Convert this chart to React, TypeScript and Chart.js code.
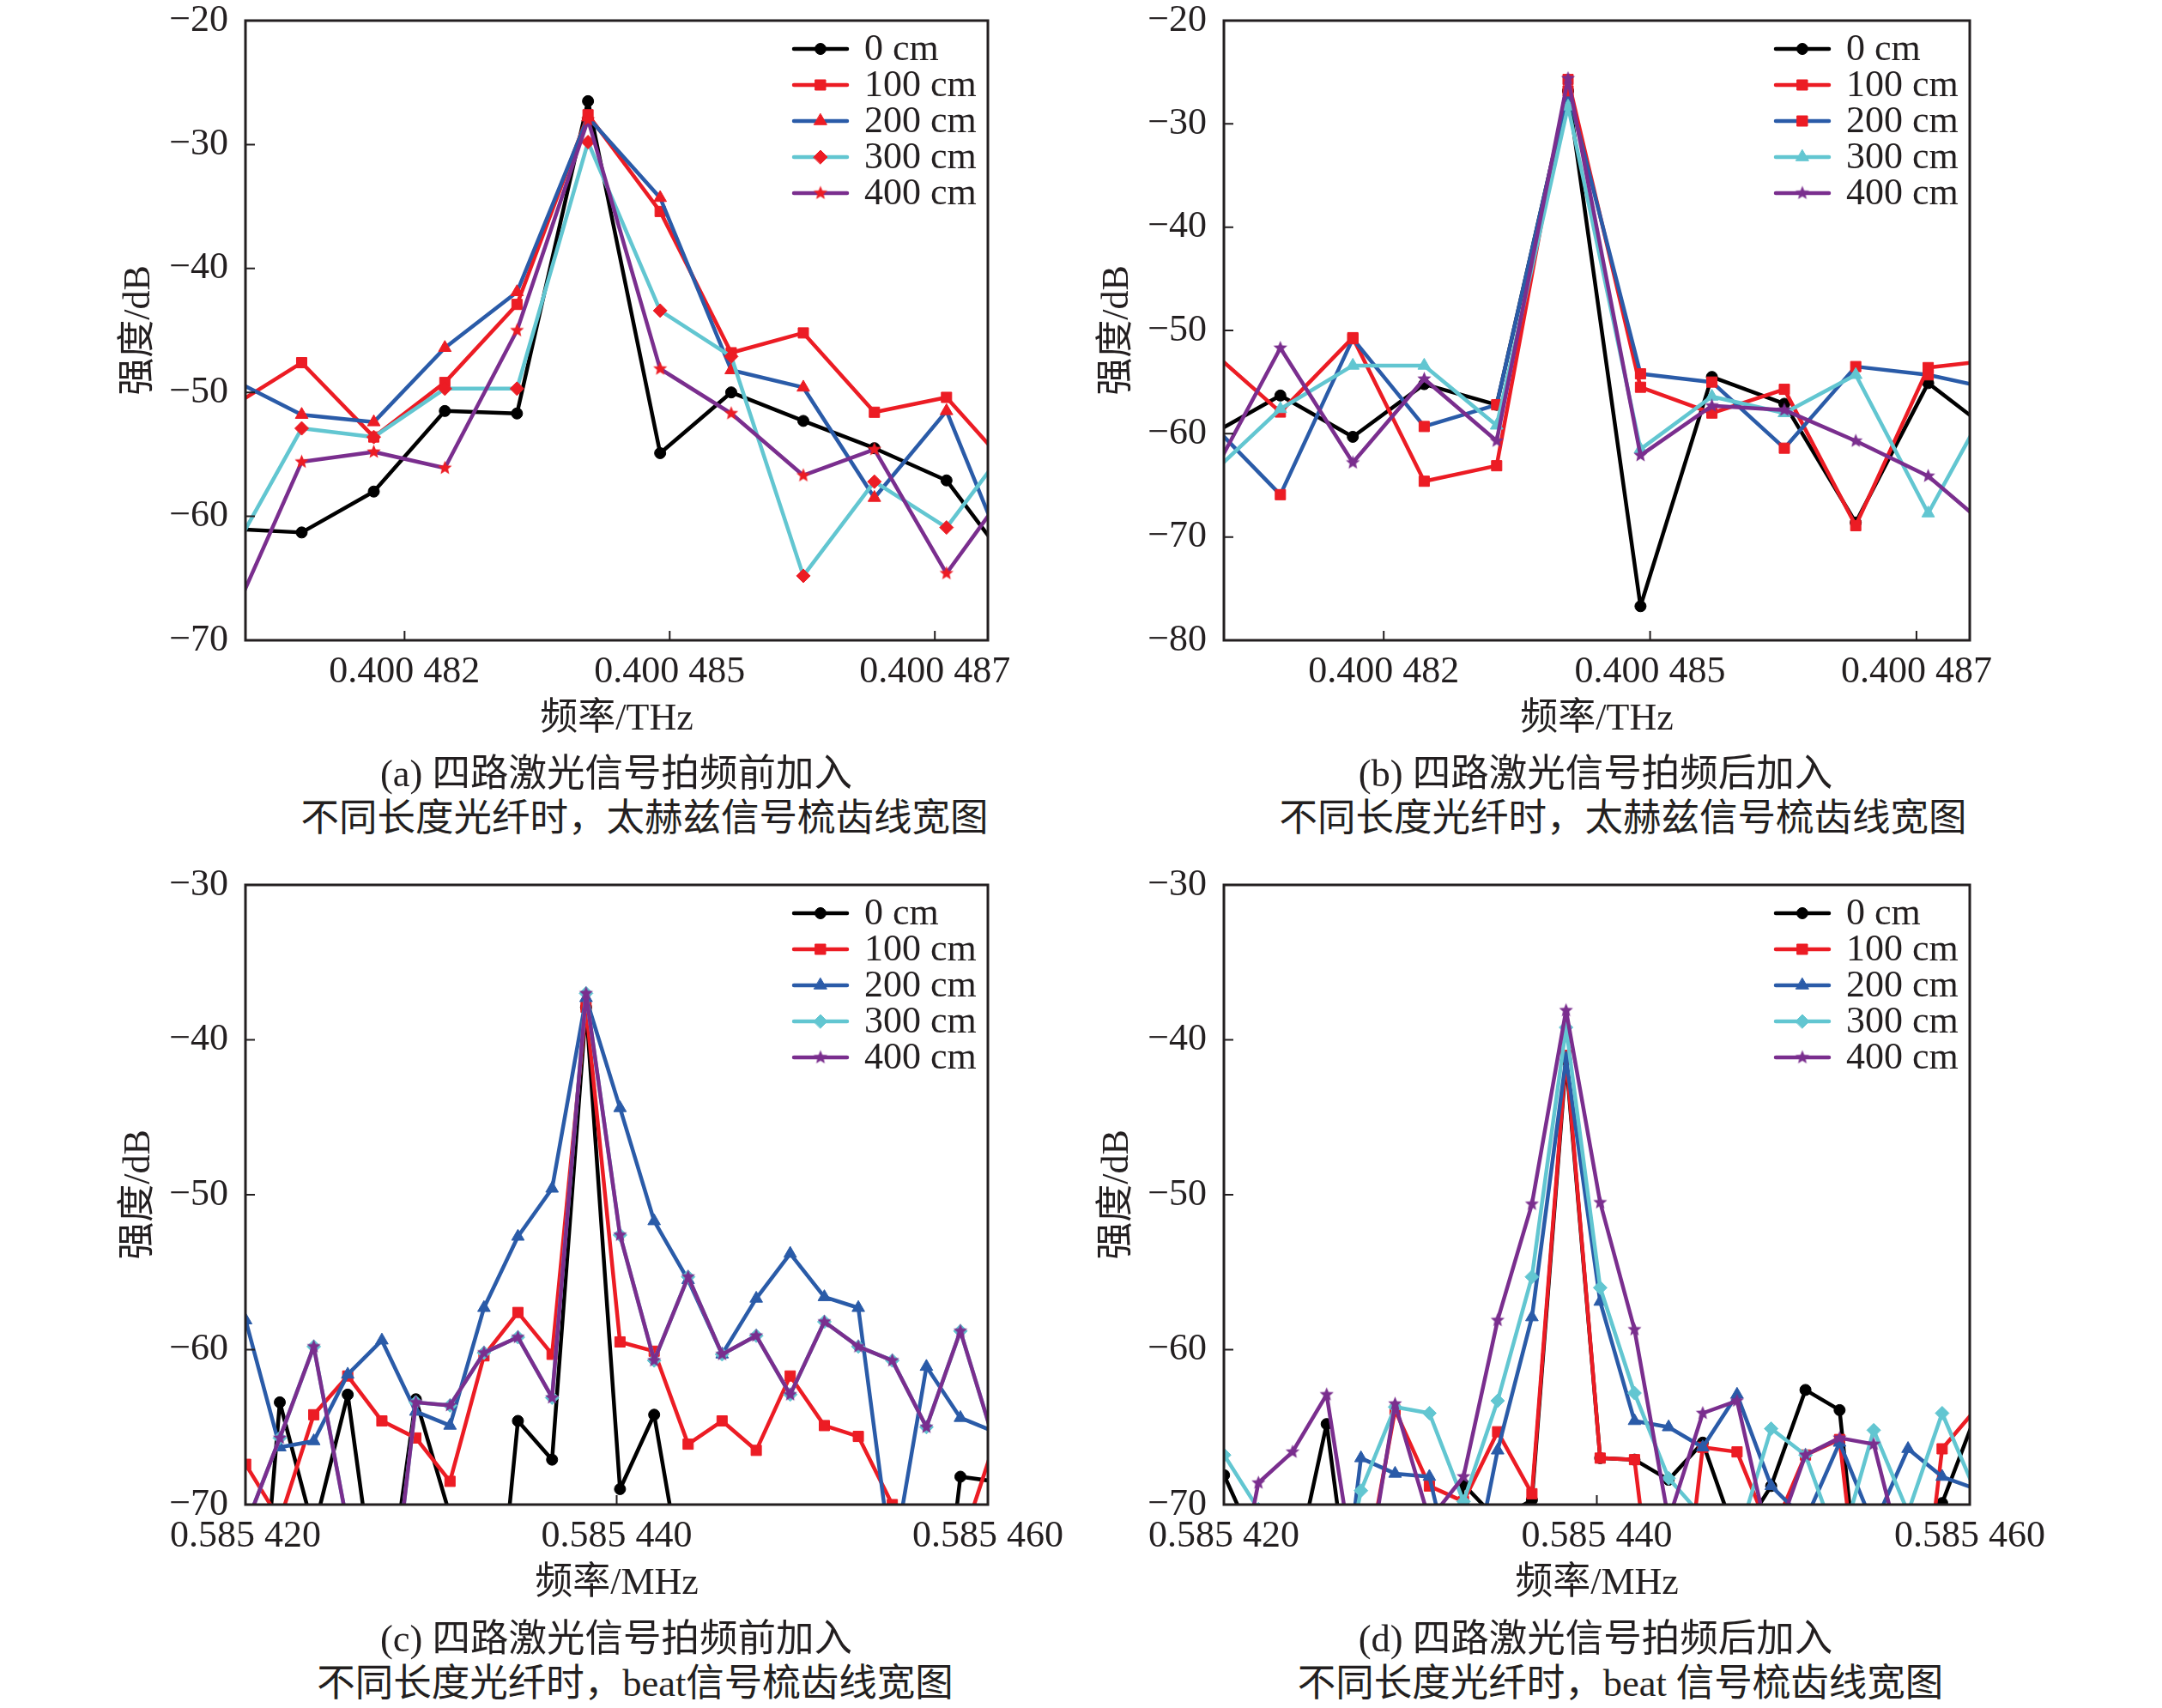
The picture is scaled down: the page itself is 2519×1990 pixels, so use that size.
import React, { useEffect, useRef } from 'react';
import { Chart, registerables } from 'chart.js';
import { drawPoint } from 'chart.js/helpers';

Chart.register(...registerables);

// ---------- data ----------
// x positions: offsets in 1e-6 THz above 0.4 THz
const THZ_X = [480.36, 481.03, 481.71, 482.38, 483.06, 483.73, 484.41, 485.08, 485.76, 486.43, 487.11, 487.78];
const THZ_TICKS = [482, 484.5, 487];
const THZ_TICK_LABELS = ['0.400 482', '0.400 485', '0.400 487'];

// x positions: offsets in 1e-6 MHz above 0.585 MHz
const MHZ_X = [418.18, 420.01, 421.85, 423.68, 425.51, 427.35, 429.18, 431.02, 432.85, 434.68, 436.52, 438.35,
  440.18, 442.02, 443.85, 445.68, 447.52, 449.35, 451.19, 453.02, 454.85, 456.69, 458.52, 460.36];
const MHZ_TICKS = [420, 440, 460];
const MHZ_TICK_LABELS = ['0.585 420', '0.585 440', '0.585 460'];

const SERIES_LABELS = ['0 cm', '100 cm', '200 cm', '300 cm', '400 cm'];

// (a)
const A_0CM = [-61.0, -61.3, -58.0, -51.5, -51.7, -26.5, -54.9, -50.0, -52.3, -54.5, -57.1, -64.7];
const A_100CM = [-51.2, -47.6, -53.6, -49.2, -42.9, -27.6, -35.4, -46.8, -45.2, -51.6, -50.4, -56.8];
const A_200CM = [-48.9, -51.8, -52.4, -46.4, -41.9, -27.8, -34.3, -48.2, -49.6, -58.5, -51.5, -65.6];
const A_300CM = [-63.2, -52.9, -53.6, -49.7, -49.7, -29.8, -43.4, -47.1, -64.8, -57.2, -60.9, -53.3];
const A_400CM = [-68.5, -55.6, -54.8, -56.1, -45.0, -28.0, -48.1, -51.7, -56.7, -54.6, -64.6, -56.7];

// (b)
const B_0CM = [-60.2, -56.3, -60.3, -55.2, -57.2, -26.8, -76.7, -54.5, -57.1, -68.6, -55.1, -60.4];
const B_100CM = [-51.8, -57.9, -50.7, -64.6, -63.1, -25.7, -55.5, -58.0, -55.7, -68.9, -53.6, -52.8];
const B_200CM = [-58.8, -65.9, -50.8, -59.3, -57.2, -26.8, -54.2, -55.0, -61.4, -53.5, -54.3, -55.8];
const B_300CM = [-64.1, -57.6, -53.4, -53.4, -59.2, -28.3, -61.5, -56.4, -58.0, -54.3, -67.7, -55.1];
const B_400CM = [-64.6, -51.7, -62.8, -54.7, -60.7, -25.6, -62.1, -57.3, -57.7, -60.7, -64.1, -70.0];

// (c)
const C_0CM = [-88, -90, -63.4, -71.7, -62.9, -79.0, -63.2, -70.7, -87.0, -64.6, -67.1, -37.9,
  -69.0, -64.2, -76.9, -80, -82, -80, -84, -82, -85, -86.5, -68.2, -68.5];
const C_100CM = [-66, -67.4, -71.0, -64.2, -61.7, -64.6, -65.7, -68.5, -60.4, -57.6, -60.3, -37.9,
  -59.5, -60.1, -66.1, -64.6, -66.5, -61.7, -64.9, -65.6, -70.0, -75, -72.7, -66.0];
const C_200CM = [-57, -58.1, -66.3, -65.9, -61.6, -59.4, -64.0, -64.9, -57.3, -52.7, -49.6, -37.3,
  -44.4, -51.7, -55.5, -60.3, -56.7, -53.8, -56.6, -57.3, -74.0, -61.1, -64.4, -65.3];
const C_300CM = [-75, -71.4, -65.7, -59.8, -71.4, -82.2, -63.4, -63.6, -60.2, -59.2, -63.1, -37.0,
  -52.6, -60.7, -55.3, -60.3, -59.1, -62.9, -58.2, -59.8, -60.7, -65.0, -58.8, -66.0];
const C_400CM = [-75, -71.4, -65.7, -59.8, -71.4, -82.2, -63.4, -63.6, -60.2, -59.2, -63.1, -37.0,
  -52.6, -60.7, -55.3, -60.3, -59.1, -62.9, -58.2, -59.8, -60.7, -65.0, -58.8, -66.0];

// (d)
const D_0CM = [-66, -68.1, -73, -75, -64.8, -81.6, -85, -85, -68.7, -71, -69.7, -41.3,
  -67.0, -67.1, -68.4, -66.0, -72.3, -68.8, -62.6, -63.9, -85, -85, -69.9, -64.1];
const D_100CM = [-80, -80, -80, -80, -80, -76, -63.9, -68.8, -69.8, -65.3, -69.3, -41.0,
  -67.0, -67.1, -85, -66.3, -66.6, -72, -66.8, -65.8, -85, -85, -66.4, -63.8];
const D_200CM = [-80, -80, -80, -80, -85, -67.0, -68.0, -68.2, -77.5, -66.5, -57.9, -41.2,
  -56.9, -64.6, -65.0, -66.3, -62.9, -68.8, -71.0, -66.0, -71.4, -66.4, -68.2, -69.0];
const D_300CM = [-64, -66.8, -70.3, -80, -80, -69.1, -63.7, -64.1, -69.8, -63.3, -55.3, -39.2,
  -56.0, -62.8, -68.3, -70.8, -72.4, -65.1, -66.8, -72.9, -65.2, -70.5, -64.1, -69.3];
const D_400CM = [-85, -79.6, -68.6, -66.6, -62.9, -77, -63.5, -71, -68.2, -58.1, -50.6, -38.1,
  -50.5, -58.7, -71, -64.1, -63.3, -73, -66.8, -65.7, -66.1, -74.8, -80, -80];

// ---------- styles ----------
const INK = '#231f20';
const BLACK = '#000000';
const RED = '#ec1c24';
const BLUE = '#2a5ba8';
const CYAN = '#62c6d1';
const PURPLE = '#7a2e8e';

const SERIF = "'Liberation Serif', 'Noto Sans CJK SC', serif";

type Marker = { style: string; color: string; radius: number };
const circle = (c: string): Marker => ({ style: 'circle', color: c, radius: 6.5 });
const square = (c: string): Marker => ({ style: 'rect', color: c, radius: 8.5 });
const tri = (c: string): Marker => ({ style: 'triangle', color: c, radius: 8.5 });
const diamond = (c: string): Marker => ({ style: 'rectRot', color: c, radius: 8 });
const star = (c: string): Marker => ({ style: 'star', color: c, radius: 8.5 });

function makeStar(color: string, r: number) {
  const size = Math.ceil(r * 2 + 2);
  const c = document.createElement('canvas');
  c.width = size;
  c.height = size;
  const g = c.getContext('2d')!;
  g.fillStyle = color;
  g.beginPath();
  for (let k = 0; k < 10; k++) {
    const rad = k % 2 === 0 ? r : r * 0.45;
    const a = -Math.PI / 2 + (k * Math.PI) / 5;
    const px = size / 2 + rad * Math.cos(a);
    const py = size / 2 + rad * Math.sin(a);
    if (k === 0) g.moveTo(px, py);
    else g.lineTo(px, py);
  }
  g.closePath();
  g.fill();
  return c;
}

type Series = { ys: number[]; line: string; marker: Marker };
type PanelSpec = {
  left: number;
  top: number;
  padRight: number;
  xs: number[];
  xMin: number;
  xMax: number;
  xTicks: number[];
  xTickLabels: string[];
  xTitle: string;
  yMin: number;
  yMax: number;
  series: Series[];
  captions: { text: string; cx: number; cy: number }[];
};

const PANELS: PanelSpec[] = [
  {
    left: 80, top: 0, padRight: 129, xs: THZ_X, xMin: 480.5, xMax: 487.5, xTicks: THZ_TICKS, xTickLabels: THZ_TICK_LABELS,
    xTitle: '频率/THz', yMin: -70, yMax: -20,
    series: [
      { ys: A_0CM, line: BLACK, marker: circle(BLACK) },
      { ys: A_100CM, line: RED, marker: square(RED) },
      { ys: A_200CM, line: BLUE, marker: tri(RED) },
      { ys: A_300CM, line: CYAN, marker: diamond(RED) },
      { ys: A_400CM, line: PURPLE, marker: star(RED) },
    ],
    captions: [
      { text: '(a) 四路激光信号拍频前加入', cx: 718, cy: 901 },
      { text: '不同长度光纤时，太赫兹信号梳齿线宽图', cx: 751, cy: 953 },
    ],
  },
  {
    left: 1220, top: 0, padRight: 125, xs: THZ_X, xMin: 480.5, xMax: 487.5, xTicks: THZ_TICKS, xTickLabels: THZ_TICK_LABELS,
    xTitle: '频率/THz', yMin: -80, yMax: -20,
    series: [
      { ys: B_0CM, line: BLACK, marker: circle(BLACK) },
      { ys: B_100CM, line: RED, marker: square(RED) },
      { ys: B_200CM, line: BLUE, marker: square(RED) },
      { ys: B_300CM, line: CYAN, marker: tri(CYAN) },
      { ys: B_400CM, line: PURPLE, marker: star(PURPLE) },
    ],
    captions: [
      { text: '(b) 四路激光信号拍频后加入', cx: 1859, cy: 901 },
      { text: '不同长度光纤时，太赫兹信号梳齿线宽图', cx: 1891, cy: 953 },
    ],
  },
  {
    left: 80, top: 1007, padRight: 129, xs: MHZ_X, xMin: 420, xMax: 460, xTicks: MHZ_TICKS, xTickLabels: MHZ_TICK_LABELS,
    xTitle: '频率/MHz', yMin: -70, yMax: -30,
    series: [
      { ys: C_0CM, line: BLACK, marker: circle(BLACK) },
      { ys: C_100CM, line: RED, marker: square(RED) },
      { ys: C_200CM, line: BLUE, marker: tri(BLUE) },
      { ys: C_300CM, line: CYAN, marker: diamond(CYAN) },
      { ys: C_400CM, line: PURPLE, marker: star(PURPLE) },
    ],
    captions: [
      { text: '(c) 四路激光信号拍频前加入', cx: 718, cy: 1909 },
      { text: '不同长度光纤时，beat信号梳齿线宽图', cx: 740, cy: 1961 },
    ],
  },
  {
    left: 1220, top: 1007, padRight: 125, xs: MHZ_X, xMin: 420, xMax: 460, xTicks: MHZ_TICKS, xTickLabels: MHZ_TICK_LABELS,
    xTitle: '频率/MHz', yMin: -70, yMax: -30,
    series: [
      { ys: D_0CM, line: BLACK, marker: circle(BLACK) },
      { ys: D_100CM, line: RED, marker: square(RED) },
      { ys: D_200CM, line: BLUE, marker: tri(BLUE) },
      { ys: D_300CM, line: CYAN, marker: diamond(CYAN) },
      { ys: D_400CM, line: PURPLE, marker: star(PURPLE) },
    ],
    captions: [
      { text: '(d) 四路激光信号拍频后加入', cx: 1859, cy: 1909 },
      { text: '不同长度光纤时，beat 信号梳齿线宽图', cx: 1888, cy: 1961 },
    ],
  },
];

const CANVAS_W = 1200;
const CANVAS_H = 880;

// frame + inward tick marks
const framePlugin = {
  id: 'frameTicks',
  afterDraw(chart: any) {
    const { ctx, chartArea: a, scales } = chart;
    ctx.save();
    ctx.strokeStyle = INK;
    ctx.lineWidth = 2;
    ctx.beginPath();
    for (const t of scales.x.ticks) {
      const px = scales.x.getPixelForValue(t.value);
      ctx.moveTo(px, a.bottom);
      ctx.lineTo(px, a.bottom - 11);
    }
    for (const t of scales.y.ticks) {
      const py = scales.y.getPixelForValue(t.value);
      ctx.moveTo(a.left, py);
      ctx.lineTo(a.left + 11, py);
    }
    ctx.stroke();
    ctx.lineWidth = 3;
    ctx.strokeRect(a.left, a.top, a.right - a.left, a.bottom - a.top);
    ctx.restore();
  },
};

// legend inside the plot, top right
const legendPlugin = {
  id: 'insideLegend',
  afterDraw(chart: any) {
    const { ctx, chartArea: a } = chart;
    const x0 = a.right - 226;
    const x1 = a.right - 164;
    const tx = a.right - 144;
    ctx.save();
    chart.data.datasets.forEach((ds: any, i: number) => {
      const y = a.top + 33 + i * 42;
      ctx.strokeStyle = ds.borderColor;
      ctx.lineWidth = ds.borderWidth;
      ctx.lineCap = 'round';
      ctx.beginPath();
      ctx.moveTo(x0, y);
      ctx.lineTo(x1, y);
      ctx.stroke();
      ctx.fillStyle = ds.pointBackgroundColor;
      ctx.strokeStyle = ds.pointBorderColor;
      ctx.lineWidth = 1;
      drawPoint(ctx, { pointStyle: ds.pointStyle, radius: ds.pointRadius, rotation: 0, borderWidth: 1 } as any, (x0 + x1) / 2, y);
      ctx.fillStyle = INK;
      ctx.font = `44px ${SERIF}`;
      ctx.textAlign = 'left';
      ctx.textBaseline = 'middle';
      ctx.fillText(ds.label, tx, y + 1);
    });
    ctx.restore();
  },
};

function buildConfig(p: PanelSpec): any {
  const n = p.series.length;
  const datasets = p.series.map((s, i) => {
    const pointStyle: any = s.marker.style === 'star' ? makeStar(s.marker.color, s.marker.radius) : s.marker.style;
    return {
      label: SERIES_LABELS[i],
      data: p.xs.map((x, k) => ({ x, y: s.ys[k] })),
      borderColor: s.line,
      backgroundColor: s.marker.color,
      borderWidth: 4.5,
      borderJoinStyle: 'round',
      tension: 0,
      fill: false,
      pointStyle,
      pointRadius: s.marker.radius,
      pointHoverRadius: s.marker.radius,
      pointBackgroundColor: s.marker.color,
      pointBorderColor: s.marker.color,
      pointBorderWidth: 1,
      order: n - i,
    };
  });
  const tickFont = { family: SERIF, size: 44, lineHeight: 1 };
  const titleFont = { family: SERIF, size: 44, lineHeight: 1.2 };
  return {
    type: 'line',
    data: { datasets },
    options: {
      animation: false,
      responsive: false,
      devicePixelRatio: 1,
      events: [],
      layout: { padding: { top: 24, right: p.padRight, left: 0, bottom: 0 } },
      plugins: { legend: { display: false }, tooltip: { enabled: false }, title: { display: false } },
      scales: {
        x: {
          type: 'linear',
          min: p.xMin,
          max: p.xMax,
          afterBuildTicks: (scale: any) => {
            scale.ticks = p.xTicks.map((v) => ({ value: v }));
          },
          afterFit: (scale: any) => {
            scale.height = 134;
          },
          grid: { display: false, drawTicks: true, tickLength: 15 },
          border: { display: false },
          ticks: {
            autoSkip: false,
            maxRotation: 0,
            minRotation: 0,
            padding: 0,
            color: INK,
            font: tickFont,
            callback: (_v: any, i: number) => p.xTickLabels[i],
          },
          title: { display: true, text: p.xTitle, color: INK, font: titleFont, padding: { top: 0, bottom: 15.6 } },
        },
        y: {
          type: 'linear',
          min: p.yMin,
          max: p.yMax,
          afterFit: (scale: any) => {
            scale.width = 206;
          },
          grid: { display: false, drawTicks: true, tickLength: 20 },
          border: { display: false },
          ticks: {
            stepSize: 10,
            padding: 0,
            color: INK,
            font: tickFont,
            callback: (v: any) => (v < 0 ? '\u2212' + Math.abs(v) : String(v)),
          },
          title: { display: true, text: '强度/dB', color: INK, font: titleFont, padding: { top: 56, bottom: 0 } },
        },
      },
    },
    plugins: [framePlugin, legendPlugin],
  };
}

function Panel({ spec }: { spec: PanelSpec }) {
  const ref = useRef<HTMLCanvasElement>(null);
  useEffect(() => {
    const chart = new Chart(ref.current as HTMLCanvasElement, buildConfig(spec));
    return () => chart.destroy();
  }, [spec]);
  return (
    <>
      <canvas
        ref={ref}
        width={CANVAS_W}
        height={CANVAS_H}
        style={{ position: 'absolute', left: spec.left, top: spec.top, width: CANVAS_W, height: CANVAS_H }}
      />
      {spec.captions.map((c, i) => (
        <div
          key={i}
          style={{
            position: 'absolute',
            left: c.cx,
            top: c.cy - 24,
            transform: 'translateX(-50%)',
            whiteSpace: 'nowrap',
            fontFamily: SERIF,
            fontSize: 44.5,
            lineHeight: '48px',
            color: INK,
          }}
        >
          {c.text}
        </div>
      ))}
    </>
  );
}

export default function App() {
  return (
    <div style={{ position: 'absolute', left: 0, top: 0, width: 2519, height: 1990, background: '#ffffff', overflow: 'hidden' }}>
      {PANELS.map((p, i) => (
        <Panel key={i} spec={p} />
      ))}
    </div>
  );
}
